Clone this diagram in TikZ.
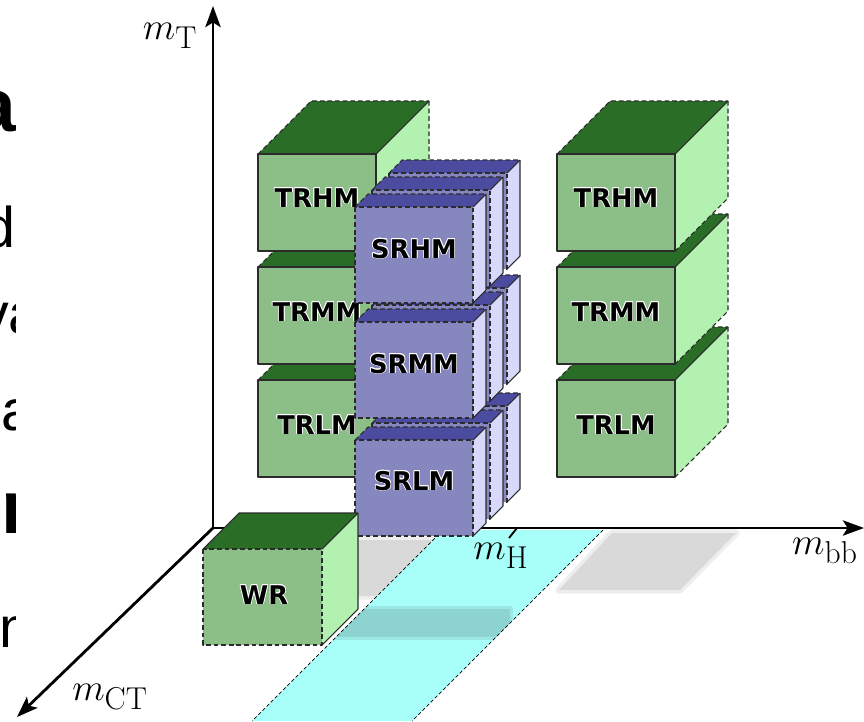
\RequirePackage{fix-cm}
\documentclass[tikz,border=0pt]{standalone}
\usepackage{fontspec}
\usepackage{contour}
\contourlength{0.6pt}
\newfontfamily\boxfont{DejaVu Sans}
\newfontfamily\slidefont{Liberation Sans}
\usetikzlibrary{arrows.meta}
\definecolor{trFront}{HTML}{8CBF88}
\definecolor{trTop}{HTML}{2A6D27}
\definecolor{trSide}{HTML}{B3F1B1}
\definecolor{srFront}{HTML}{8787BF}
\definecolor{srTop}{HTML}{4B4B9F}
\definecolor{srSide}{HTML}{D8D8FA}
\definecolor{massBand}{HTML}{A8FFFA}
\definecolor{bandShade}{HTML}{8DD3CF}
\definecolor{edgeGray}{HTML}{2B2B2B}
\tikzset{
    edge/.style={draw=edgeGray, line width=0.9pt, line join=round},
    dashedge/.style={edge, dash pattern=on 4pt off 2.5pt},
    % face defaults
    facefront/.style={fill=white},
    facetop/.style={fill=white},
    faceside/.style={fill=white},
    frontedge/.style={edge},
    topedge/.style={edge},
    sideedge/.style={edge},
    cornerline/.style={edge},
    % cube families
    trbox/.style={
        facefront/.style={fill=trFront},
        facetop/.style={fill=trTop},
        faceside/.style={fill=trSide},
        frontedge/.style={edge},
        topedge/.style={dashedge},
        sideedge/.style={dashedge}
    },
    srbox/.style={
        facefront/.style={fill=srFront},
        facetop/.style={fill=srTop},
        faceside/.style={fill=srSide},
        frontedge/.style={dashedge},
        topedge/.style={dashedge},
        sideedge/.style={edge}
    },
    wrbox/.style={
        facefront/.style={fill=trFront},
        facetop/.style={fill=trTop},
        faceside/.style={fill=trSide},
        frontedge/.style={dashedge},
        topedge/.style={edge},
        sideedge/.style={edge}
    },
    boxlabel/.style={font=\boxfont\bfseries\fontsize{22}{26}\selectfont, inner sep=0pt},
    axislabel/.style={font=\fontsize{24.88}{30}\selectfont, inner sep=0pt},
    axis/.style={line width=2.4pt, -{Stealth[length=18pt, width=13pt, inset=4pt]}},
    floorshade/.style={fill=gray!30, draw=gray!30, draw opacity=0.45, line width=6pt, line join=round},
    slide/.style={font=\slidefont\fontsize{49}{55}\selectfont, inner sep=0pt},
    slidebold/.style={font=\slidefont\bfseries\fontsize{64}{70}\selectfont, inner sep=0pt}
}
% one box: front top-left corner (#1,#2), width #3, height #4, depth #5
\newcommand{\blockcube}[5]{%
  \fill[faceside] (#1+#3,#2) -- ++(#5,-#5) -- ++(0,#4) -- ++(-#5,#5) -- cycle;
  \fill[facetop] (#1,#2) -- ++(#5,-#5) -- ++(#3,0) -- ++(-#5,#5) -- cycle;
  \fill[facefront] (#1,#2) rectangle ++(#3,#4);
  \draw[sideedge] (#1+#3+#5,#2-#5) -- ++(0,#4) -- ++(-#5,#5);
  \draw[topedge] (#1,#2) -- ++(#5,-#5) -- ++(#3,0);
  \draw[cornerline] (#1+#3,#2) -- ++(#5,-#5);
  \draw[frontedge] (#1,#2) rectangle ++(#3,#4);
}
\newcommand{\axistext}[1]{\scalebox{1.3}{$#1$}}
\newcommand{\halo}[1]{\contour{white}{#1}}

\begin{document}
\begin{tikzpicture}[x=0.03cm, y=-0.03cm]
\useasboundingbox (0,0) rectangle (864,721);
\clip (0,0) rectangle (864,721);

% ===== floor: shadows and Higgs mass band =====
\path[floorshade] (612,533) -- (736,533) -- (680,590) -- (559,590) -- cycle;
\path[floorshade] (340,540) -- (444,540) -- (388,596) -- (340,596) -- cycle;

\fill[massBand] (443,530) -- (603,530) -- (412,721) -- (252,721) -- cycle;
\begin{scope}
  \clip (443,530) -- (603,530) -- (412,721) -- (252,721) -- cycle;
  \fill[bandShade, draw=bandShade, draw opacity=0.5, line width=5pt, line join=round]
       (330,609) rectangle (510,637);
\end{scope}
\draw[black, line width=0.6pt, dash pattern=on 3pt off 2pt] (443,530) -- (252,721);
\draw[black, line width=0.6pt, dash pattern=on 3pt off 2pt] (603,530) -- (412,721);

% ===== axes =====
\coordinate (O)    at (213,528);
\coordinate (mtip) at (213,6);
\coordinate (btip) at (864,528);
\coordinate (ctip) at (17,717);
\coordinate (hmark) at (517,528);

\draw[axis] (O) -- (mtip);
\draw[axis] (O) -- (btip);
\draw[axis] (O) -- (ctip);
\draw[line width=1.6pt] (hmark) -- ++(-8,10);

\node[axislabel] (mT)  at (170,36)  {\axistext{m_{\mathrm{T}}}};
\node[axislabel] (mCT) at (110,697) {\axistext{m_{\mathrm{CT}}}};
\node[axislabel] (mH)  at (501,556) {\axistext{m_{\mathrm{H}}}};
\node[axislabel, anchor=west] (mbb) at (792,551) {\axistext{m_{\mathrm{bb}}}};

% ===== right TR column =====
\begin{scope}[trbox]
  \foreach \top in {380,267,154} {\blockcube{557}{\top}{118}{97}{53}}
\end{scope}
\node[boxlabel] (trlmR) at (616,425) {\halo{TRLM}};
\node[boxlabel] (trmmR) at (616,312) {\halo{TRMM}};
\node[boxlabel] (trhmR) at (616,198) {\halo{TRHM}};

% ===== left TR column =====
\begin{scope}[trbox]
  \foreach \top in {380,267,154} {\blockcube{258}{\top}{118}{97}{53}}
\end{scope}
\node[boxlabel] (trlmL) at (317,425) {\halo{TRLM}};
\node[boxlabel] (trmmL) at (317,312) {\halo{TRMM}};
\node[boxlabel] (trhmL) at (317,198) {\halo{TRHM}};

% ===== SR stack (three slices per box) =====
\begin{scope}[srbox]
  \foreach \top in {440,322,207} {
    \foreach \k in {2,1,0} {\blockcube{355+17*\k}{\top-17*\k}{118}{96}{13}}
  }
\end{scope}
\node[boxlabel] (srlm) at (414,481) {\halo{SRLM}};
\node[boxlabel] (srmm) at (414,364) {\halo{SRMM}};
\node[boxlabel] (srhm) at (414,249) {\halo{SRHM}};

% ===== WR box =====
\begin{scope}[wrbox]
  \blockcube{203}{549}{119}{96}{36}
\end{scope}
\node[boxlabel] (wr) at (264,595) {\halo{WR}};

% ===== cut-off slide text on the left =====
\begin{scope}
  \clip (0,0) rectangle (15.5,721);
  \node[slidebold, anchor=base east] (txtA) at (16,131) {a};
  \node[slide, anchor=base east]     (txtB) at (16,247) {d};
  \node[slide, anchor=base west]     (txtC) at (-20,333) {va};
  \node[slide, anchor=base west]     (txtD) at (1,430) {a};
  \node[slidebold, anchor=base west] (txtE) at (1,533) {n};
  \node[slide, anchor=base west]     (txtF) at (-1,647) {m};
\end{scope}

\end{tikzpicture}
\end{document}
